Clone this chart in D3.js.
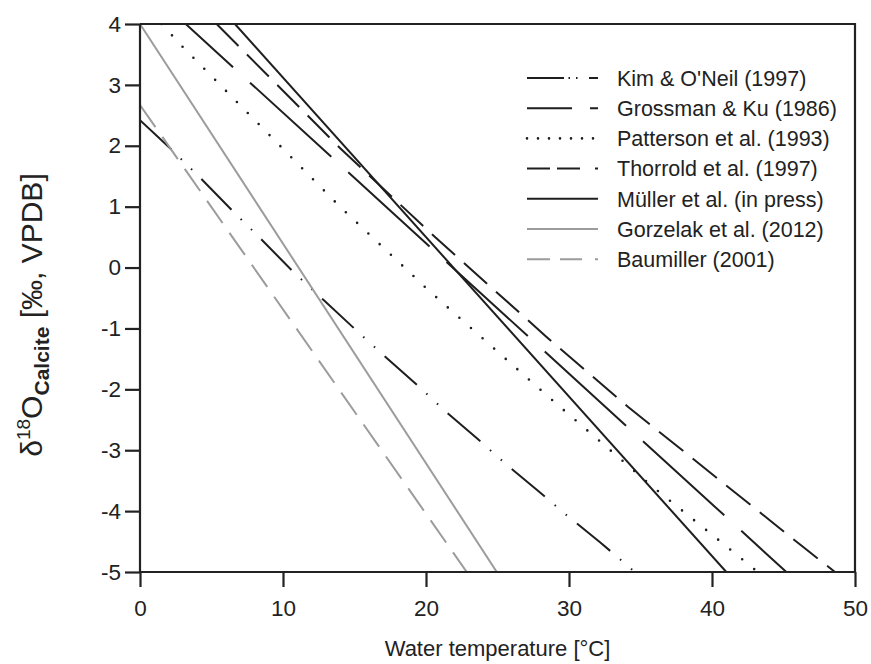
<!DOCTYPE html>
<html>
<head>
<meta charset="utf-8">
<script src="https://cdn.jsdelivr.net/npm/d3@7"></script>
<style>
  html, body { margin: 0; padding: 0; background: #fff; }
  svg text { font-family: "Liberation Sans", Arial, sans-serif; fill: #222; }
</style>
</head>
<body>
<svg id="chart" width="871" height="664"></svg>
<script>
// Calibration curves: water temperature (°C) vs. δ18O of calcite (‰ VPDB)
const seriesNames = [
  "Kim & O'Neil (1997)",
  "Grossman & Ku (1986)",
  "Patterson et al. (1993)",
  "Thorrold et al. (1997)",
  "Müller et al. (in press)",
  "Gorzelak et al. (2012)",
  "Baumiller (2001)"
];

const kimT   = [0, 2.2, 4.31, 6.48, 8.58, 10.72, 12.82, 15.03, 17.13, 19.34, 21.4, 23.6, 25.64, 27.85, 29.95, 32.17, 34.6];
const kimD   = [2.42, 1.94, 1.45, 0.93, 0.44, -0.07, -0.53, -1.01, -1.46, -1.92, -2.37, -2.81, -3.24, -3.67, -4.09, -4.51, -5];

const grossmanT = [3.2, 45.2];
const grossmanD = [4, -5];

const pattersonT = [1.5, 2.92, 13.94, 20.16, 28.74, 35.7, 40.7, 43.2];
const pattersonD = [4, 3.64, 1.01, -0.37, -2.16, -3.57, -4.52, -5];

const thorroldT = [5.36, 14.0, 20.4, 28.43, 34.14, 46.27, 48.6];
const thorroldD = [4, 1.96, 0.55, -1.14, -2.29, -4.57, -5];

const mullerT = [6.64, 41.0];
const mullerD = [4, -5];

const gorzelakT = [0, 24.95];
const gorzelakD = [4, -5];

const baumillerT = [0, 22.85];
const baumillerD = [2.67, -5];

const xTicks = [0, 10, 20, 30, 40, 50];
const yTicks = [-5, -4, -3, -2, -1, 0, 1, 2, 3, 4];

// Line styles: colour, dash pattern on the plot, dash pattern in the legend, linecap, width
const styles = [
  { color: "#1e1e1e", dash: "43,13,1.5,13,1.5,13", legendDash: "37,4.5,1.5,6,1.5,11.5", cap: "butt", width: 2, offset: 0 },
  { color: "#1e1e1e", dash: "110,23", legendDash: "45,18", cap: "butt", width: 2, offset: 46 },
  { color: "#1e1e1e", dash: "0,15.5", legendDash: "0,11", cap: "round", width: 2.6, offset: 0 },
  { color: "#1e1e1e", dash: "31,12", legendDash: "23,7,23,15", cap: "butt", width: 2, offset: 0 },
  { color: "#1e1e1e", dash: null, legendDash: null, cap: "butt", width: 2, offset: 0 },
  { color: "#9c9c9c", dash: null, legendDash: null, cap: "butt", width: 2, offset: 0 },
  { color: "#9c9c9c", dash: "27,12", legendDash: "23,10,22,13", cap: "butt", width: 2, offset: 0 }
];

const seriesT = [kimT, grossmanT, pattersonT, thorroldT, mullerT, gorzelakT, baumillerT];
const seriesD = [kimD, grossmanD, pattersonD, thorroldD, mullerD, gorzelakD, baumillerD];

const series = seriesNames.map((name, i) => ({
  name,
  style: styles[i],
  points: seriesT[i].map((t, j) => ({ t, d: seriesD[i][j] }))
}));

const svg = d3.select("#chart");
const plotLeft = 140, plotRight = 855, plotTop = 24, plotBottom = 572;

const x = d3.scaleLinear().domain([0, 50]).range([plotLeft, plotRight]);
const y = d3.scaleLinear().domain([-5, 4]).range([plotBottom, plotTop]);

svg.append("defs").append("clipPath").attr("id", "plotArea")
  .append("rect").attr("x", plotLeft).attr("y", plotTop)
  .attr("width", plotRight - plotLeft).attr("height", plotBottom - plotTop);

// Curves
const line = d3.line().x(p => x(p.t)).y(p => y(p.d));
const plot = svg.append("g").attr("clip-path", "url(#plotArea)");
plot.selectAll("path.curve")
  .data(series)
  .join("path")
  .attr("class", "curve")
  .attr("d", s => line(s.points))
  .attr("fill", "none")
  .attr("stroke", s => s.style.color)
  .attr("stroke-width", s => s.style.width)
  .attr("stroke-linecap", s => s.style.cap)
  .attr("stroke-dasharray", s => s.style.dash)
  .attr("stroke-dashoffset", s => s.style.offset);

// Axes
const axisColor = "#222";
const fmt = d => String(d);
const gx = svg.append("g").attr("transform", `translate(0,${plotBottom})`)
  .call(d3.axisBottom(x).tickValues(xTicks).tickFormat(fmt).tickSize(15).tickSizeOuter(0).tickPadding(13));
const gy = svg.append("g").attr("transform", `translate(${plotLeft},0)`)
  .call(d3.axisLeft(y).tickValues(yTicks).tickFormat(fmt).tickSize(15).tickSizeOuter(0).tickPadding(4));

[gx, gy].forEach(g => {
  g.select(".domain").attr("stroke", axisColor).attr("stroke-width", 2.2);
  g.selectAll(".tick line").attr("stroke", axisColor).attr("stroke-width", 2.2);
  g.selectAll(".tick text").attr("font-size", 22.5)
    .attr("font-family", "Liberation Sans, Arial, sans-serif").attr("fill", "#222");
});
gx.select(".domain").attr("d", `M${plotLeft},0H${plotRight}`);
gy.select(".domain").attr("d", `M0,${plotTop}V${plotBottom}`);

// Top and right frame
svg.append("path")
  .attr("d", `M${plotLeft},${plotTop}H${plotRight}V${plotBottom}`)
  .attr("fill", "none").attr("stroke", axisColor).attr("stroke-width", 2.2);

// Axis titles
svg.append("text")
  .attr("x", (plotLeft + plotRight) / 2).attr("y", 656)
  .attr("text-anchor", "middle").attr("font-size", 22)
  .text("Water temperature [°C]");

const yt = svg.append("text")
  .attr("transform", "translate(42,315) rotate(-90)")
  .attr("text-anchor", "middle").attr("font-size", 30);
yt.append("tspan").text("δ");
yt.append("tspan").attr("font-size", 19).attr("dy", -12).text("18");
yt.append("tspan").attr("dy", 12).text("O");
yt.append("tspan").attr("font-size", 21).attr("font-weight", "bold").attr("dy", 7).text("Calcite");
yt.append("tspan").attr("dy", -7).text(" [‰, VPDB]");

// Legend
const legend = svg.append("g");
const rowY = i => 78 + i * 30.2;
legend.selectAll("line")
  .data(series)
  .join("line")
  .attr("x1", 527).attr("x2", 598)
  .attr("y1", (s, i) => rowY(i)).attr("y2", (s, i) => rowY(i))
  .attr("stroke", s => s.style.color)
  .attr("stroke-width", s => s.style.width)
  .attr("stroke-linecap", s => s.style.cap)
  .attr("stroke-dasharray", s => s.style.legendDash);
legend.selectAll("text")
  .data(series)
  .join("text")
  .attr("x", 617).attr("y", (s, i) => rowY(i))
  .attr("dy", "0.36em")
  .attr("font-size", 21.5)
  .text(s => s.name);
</script>
</body>
</html>
